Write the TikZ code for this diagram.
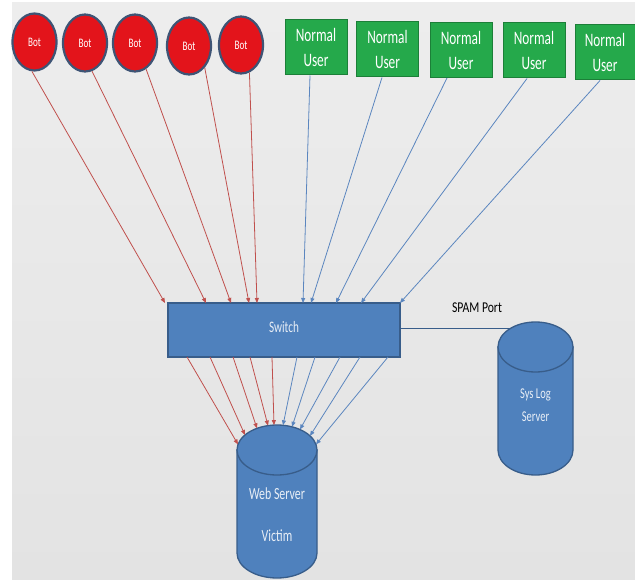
\documentclass[tikz,border=0pt]{standalone}
\usepackage{fontspec}
\setmainfont{Carlito}
\usepackage{graphicx}
\usetikzlibrary{arrows.meta,shapes.geometric,calc}

\definecolor{botred}{HTML}{E3141B}
\definecolor{botedge}{HTML}{3E5475}
\definecolor{usergreen}{HTML}{25A94B}
\definecolor{useredge}{HTML}{1C7F38}
\definecolor{boxblue}{HTML}{4F81BD}
\definecolor{boxedge}{HTML}{385D8A}
\definecolor{redline}{HTML}{C0504D}
\definecolor{blueline}{HTML}{5B86BF}
\definecolor{bgtop}{HTML}{EDEDED}
\definecolor{bgbot}{HTML}{E3E3E3}

% narrow lettering
\newcommand\nar[1]{\scalebox{0.7}[1]{#1}}

\begin{document}
\begin{tikzpicture}[x=1pt,y=-1pt,
  bot/.style={ellipse, draw=botedge, line width=2.2pt, fill=botred,
    minimum width=44pt, minimum height=57pt, inner sep=0pt, text=white,
    font=\fontsize{13}{15}\selectfont},
  user/.style={rectangle, draw=useredge, line width=1pt, fill=usergreen,
    minimum width=62pt, minimum height=55pt, inner sep=0pt, text=white,
    align=center, font=\fontsize{19}{25}\selectfont},
  switchbox/.style={rectangle, draw=boxedge, line width=1.3pt, fill=boxblue,
    minimum width=232pt, minimum height=54pt, inner sep=0pt,
    text={rgb,255:red,232;green,238;blue,246}, font=\fontsize{16}{18}\selectfont},
  cylbody/.style={fill=boxblue, draw=boxedge, line width=1.3pt},
  lbl/.style={text={rgb,255:red,232;green,238;blue,246}, align=center, inner sep=0pt},
  redarr/.style={draw=redline, line width=0.8pt, -{Triangle[length=5pt,width=4pt]}},
  bluearr/.style={draw=blueline, line width=0.8pt, -{Triangle[length=5pt,width=4pt]}},
]
% background
\fill[white] (0,0) rectangle (635,580);
\shade[top color=bgtop, bottom color=bgbot] (12,3) rectangle (635,580);
\useasboundingbox (0,0) rectangle (635,580);

% bots
\node[bot] (b1) at (34.5,42) {\nar{Bot}};
\node[bot] (b2) at (85,43) {\nar{Bot}};
\node[bot] (b3) at (135,43) {\nar{Bot}};
\node[bot] (b4) at (189,46) {\nar{Bot}};
\node[bot] (b5) at (241,45) {\nar{Bot}};

% normal users
\node[user] (u1) at (316,47.5) {\nar{Normal}\\\nar{User}};
\node[user] (u2) at (387.5,49.5) {\nar{Normal}\\\nar{User}};
\node[user] (u3) at (461,50) {\nar{Normal}\\\nar{User}};
\node[user] (u4) at (534,50.5) {\nar{Normal}\\\nar{User}};
\node[user, minimum width=60pt] (u5) at (605,52.5) {\nar{Normal}\\\nar{User}};

% switch
\node[switchbox] (sw) at (284,330) {\raisebox{6pt}{\nar{Switch}}};

% web server cylinder
\path[cylbody] (237,450) -- (237,553) arc[start angle=180, end angle=0, x radius=40, y radius=25] -- (317,450) -- cycle;
\path[cylbody] (277,450) ellipse [x radius=40, y radius=25];
\node[lbl, font=\fontsize{17}{19}\selectfont] (web) at (277,494) {\nar{Web Server}};
\node[lbl, font=\fontsize{17}{19}\selectfont] (victim) at (277,536) {\nar{Victim}};

% syslog cylinder
\path[cylbody] (498,347) -- (498,450) arc[start angle=180, end angle=0, x radius=37.5, y radius=25] -- (573,347) -- cycle;
\path[cylbody] (535.5,347) ellipse [x radius=37.5, y radius=25];
\node[lbl, font=\fontsize{15}{23}\selectfont] (syslog) at (535.5,405) {\nar{Sys Log}\\\nar{Server}};

% switch inputs
\coordinate (s1) at (165,303);
\coordinate (s2) at (206,303);
\coordinate (s3) at (231,303);
\coordinate (s4) at (249,303);
\coordinate (s5) at (257,303);
\coordinate (t1) at (303,303);
\coordinate (t2) at (311,303);
\coordinate (t3) at (336,303);
\coordinate (t4) at (361,303);
\coordinate (t5) at (400,303);

\draw[redarr] (b1.-95) -- (s1);
\draw[redarr] (b2.-76) -- (s2);
\draw[redarr] (b3.-67) -- (s3);
\draw[redarr] (b4.-54) -- (s4);
\draw[redarr] (b5.-73) -- (s5);

\draw[bluearr] ($(u1.south)+(-6,0)$) -- (t1);
\draw[bluearr] ($(u2.south)+(-5.5,0)$) -- (t2);
\draw[bluearr] ($(u3.south)+(-14,0)$) -- (t3);
\draw[bluearr] ($(u4.south)+(-7,0)$) -- (t4);
\draw[bluearr] ($(u5.south)+(-5,0)$) -- (t5);

% switch outputs
\coordinate (d1) at (187,357);
\coordinate (d2) at (210,357);
\coordinate (d3) at (233,357);
\coordinate (d4) at (250,357);
\coordinate (d5) at (272,357);
\coordinate (d6) at (297,357);
\coordinate (d7) at (315,357);
\coordinate (d8) at (340,357);
\coordinate (d9) at (360,357);
\coordinate (d10) at (388,357);

% web server top rim
\coordinate (w1) at (238,444.4);
\coordinate (w2) at (245,435);
\coordinate (w3) at (257,428.3);
\coordinate (w4) at (268,425.6);
\coordinate (w5) at (274,425.1);
\coordinate (w6) at (283,425.3);
\coordinate (w7) at (292,426.8);
\coordinate (w8) at (300,429.5);
\coordinate (w9) at (310,435.9);
\coordinate (w10) at (316,444.4);

\draw[redarr] (d1) -- (w1);
\draw[redarr] (d2) -- (w2);
\draw[redarr] (d3) -- (w3);
\draw[redarr] (d4) -- (w4);
\draw[redarr] (d5) -- (w5);
\draw[bluearr] (d6) -- (w6);
\draw[bluearr] (d7) -- (w7);
\draw[bluearr] (d8) -- (w8);
\draw[bluearr] (d9) -- (w9);
\draw[bluearr] (d10) -- (w10);

% mirror port to the log server
\coordinate (p0) at (400,328);
\coordinate (p1) at (511,328);
\draw[draw=boxedge, line width=0.9pt] (p0) -- (p1);
\node[font=\fontsize{15}{17}\selectfont, text=black, inner sep=0pt] (spam) at (477,308) {\scalebox{0.78}[1]{SPAM Port}};
\end{tikzpicture}
\end{document}
